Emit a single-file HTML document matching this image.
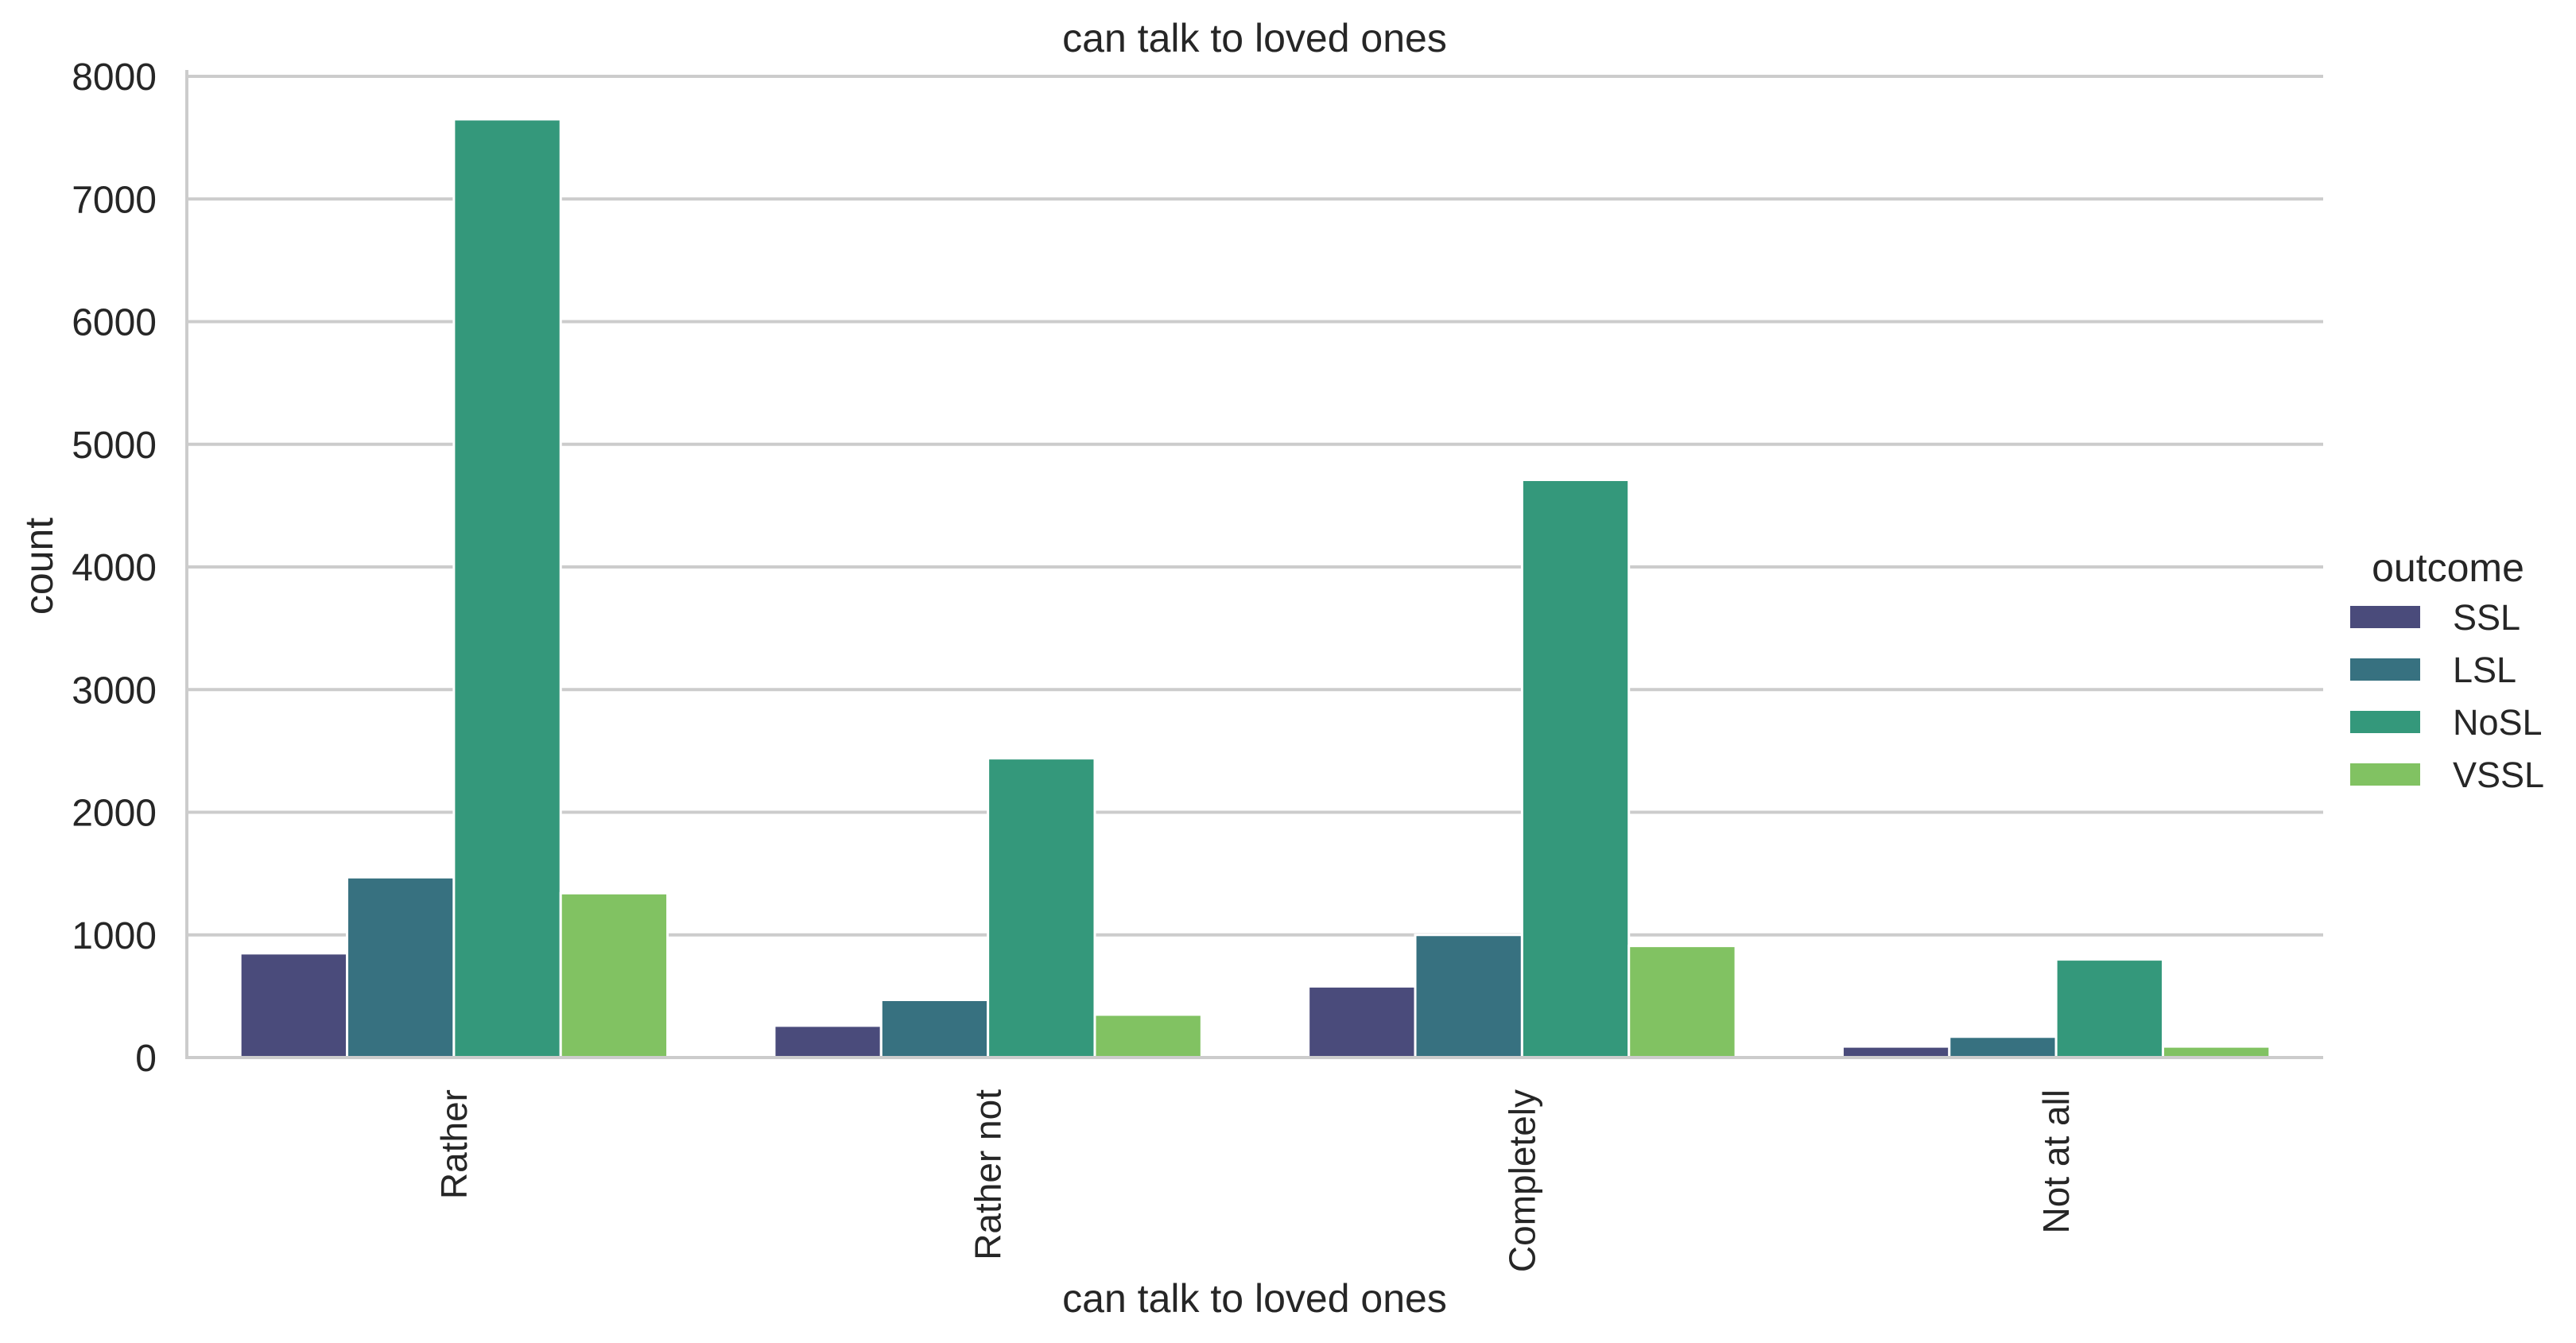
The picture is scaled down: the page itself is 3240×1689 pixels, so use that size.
<!DOCTYPE html>
<html><head><meta charset="utf-8"><style>
html,body{margin:0;padding:0;background:#fff;}
svg{display:block;font-family:"Liberation Sans",sans-serif;}
</style></head><body>
<svg id="chart" width="3240" height="1689" viewBox="0 0 3240 1689" xmlns="http://www.w3.org/2000/svg">
<g id="grid"></g><g id="bars"></g><g id="axes"></g><g id="legend"></g>
<text x="1578" y="65" font-size="50" text-anchor="middle" fill="#262626">can talk to loved ones</text>
<text x="1578" y="1650" font-size="50" text-anchor="middle" fill="#262626">can talk to loved ones</text>
<text transform="translate(66,712) rotate(-90)" font-size="50" text-anchor="middle" fill="#262626">count</text>
</svg>
<script>
const categories = ["Rather","Rather not","Completely","Not at all"];
const seriesNames = ["SSL","LSL","NoSL","VSSL"];
const ssl = [850,260,580,90];
const lsl = [1470,470,1000,170];
const nosl = [7650,2440,4710,800];
const vssl = [1340,350,910,90];
const yTicks = [0,1000,2000,3000,4000,5000,6000,7000,8000];
const colors = ["#4a4b7b","#377180","#34987b","#81c262"];
const series = [ssl,lsl,nosl,vssl];
const NS="http://www.w3.org/2000/svg";
const X0=235,X1=2922,Y0=1330,Y8=96;
const y = v => Y0 - (v/8000)*(Y0-Y8);
const band = (X1-X0)/categories.length;
const xc = i => X0 + band*(i+0.5);
const bw = band*0.8/series.length;
function mk(tag,attrs,parent){const e=document.createElementNS(NS,tag);for(const k in attrs)e.setAttribute(k,attrs[k]);parent.appendChild(e);return e;}
const grid=document.getElementById('grid'),bars=document.getElementById('bars'),axes=document.getElementById('axes'),legend=document.getElementById('legend');
yTicks.forEach(t=>{
  if(t>0){const l=mk('line',{x1:X0,x2:X1,y1:y(t),y2:y(t),stroke:'#cccccc','stroke-width':4},grid);
  
  }
  const tx=mk('text',{x:X0-38,y:y(t)+17,'font-size':48,'text-anchor':'end',fill:'#262626'},axes);
  tx.textContent=t;
  
  
});
series.forEach((s,j)=>{
  s.forEach((v,i)=>{
    const x=xc(i)-band*0.4+bw*j;
    const r=mk('rect',{x:x,y:y(v),width:bw,height:Y0-y(v),fill:colors[j],stroke:'#ffffff','stroke-width':3},bars);
    
    
  });
});
categories.forEach((c,i)=>{
  const t=mk('text',{transform:`translate(${xc(i)+16},1370) rotate(-90)`,'font-size':46,'text-anchor':'end',fill:'#262626'},axes);
  t.textContent=c;
  
  
});
const sp1=mk('line',{x1:X0,x2:X0,y1:88,y2:Y0+2,stroke:'#cccccc','stroke-width':4},axes);


const sp2=mk('line',{x1:X0-2,x2:X1,y1:Y0,y2:Y0,stroke:'#cccccc','stroke-width':4},axes);


const lt=mk('text',{x:3079,y:731,'font-size':50,'text-anchor':'middle',fill:'#262626'},legend);
lt.textContent='outcome';


seriesNames.forEach((n,j)=>{
  const cy=776+66*j;
  const r=mk('rect',{x:2956,y:cy-14,width:88,height:28,fill:colors[j]},legend);
  
  
  const t=mk('text',{x:3085,y:cy+16,'font-size':45,fill:'#262626'},legend);
  t.textContent=n;
  
  
});
</script>
</body></html>
